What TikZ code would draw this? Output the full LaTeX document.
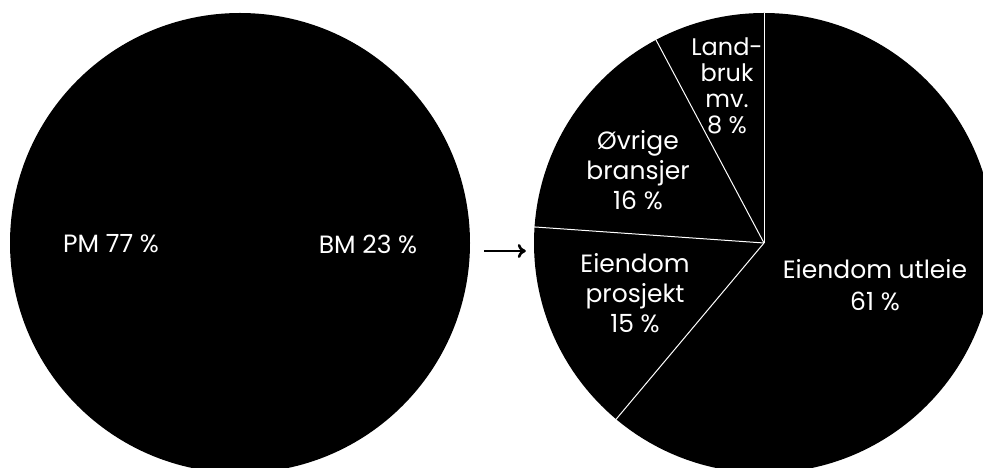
\documentclass[tikz,border=0pt]{standalone}
\usepackage{fontspec}
\setmainfont{Poppins}
\usetikzlibrary{arrows.meta}
\begin{document}
\begin{tikzpicture}[x=1pt,y=1pt,>={To[length=8pt,width=14pt]},
	sektor/.style={circle,fill=black,minimum size=460pt,inner sep=0pt},
	etikett/.style={text=white,align=center,font=\fontsize{25}{30}\selectfont},
	skille/.style={draw=white,line width=1pt}]

	\useasboundingbox (0,0) rectangle (983,468);

	% store sirkler
	\node[sektor] (venstre) at (240,225) {};
	\node[sektor] (hoyre) at (764,225) {};

	% skillelinjer
	\draw[skille] (hoyre.center) -- (hoyre.90);
	\draw[skille] (hoyre.center) -- (hoyre.230.4);
	\draw[skille] (hoyre.center) -- (hoyre.176.4);
	\draw[skille] (hoyre.center) -- (hoyre.118.8);

	% pil
	\draw[->,line width=2.6pt] ([xshift=14pt,yshift=-8pt]venstre.east) -- ([xshift=-8pt,yshift=-8pt]hoyre.west);

	% tekster venstre
	\node[etikett] (pm) at (111,224) {PM 77 \%};
	\node[etikett] (bm) at (368,224) {BM 23 \%};

	% tekster høyre
	\node[etikett,font=\fontsize{25}{32}\selectfont] (utleie) at (875,183) {Eiendom utleie\\61 \%};
	\node[etikett] (prosjekt) at (635,175) {Eiendom\\prosjekt\\15 \%};
	\node[etikett] (ovrige) at (638,298) {Øvrige\\bransjer\\16 \%};
	\node[etikett,font=\fontsize{24}{26}\selectfont] (landbruk) at (727,382) {Land-\\bruk\\mv.\\8 \%};

\end{tikzpicture}
\end{document}
